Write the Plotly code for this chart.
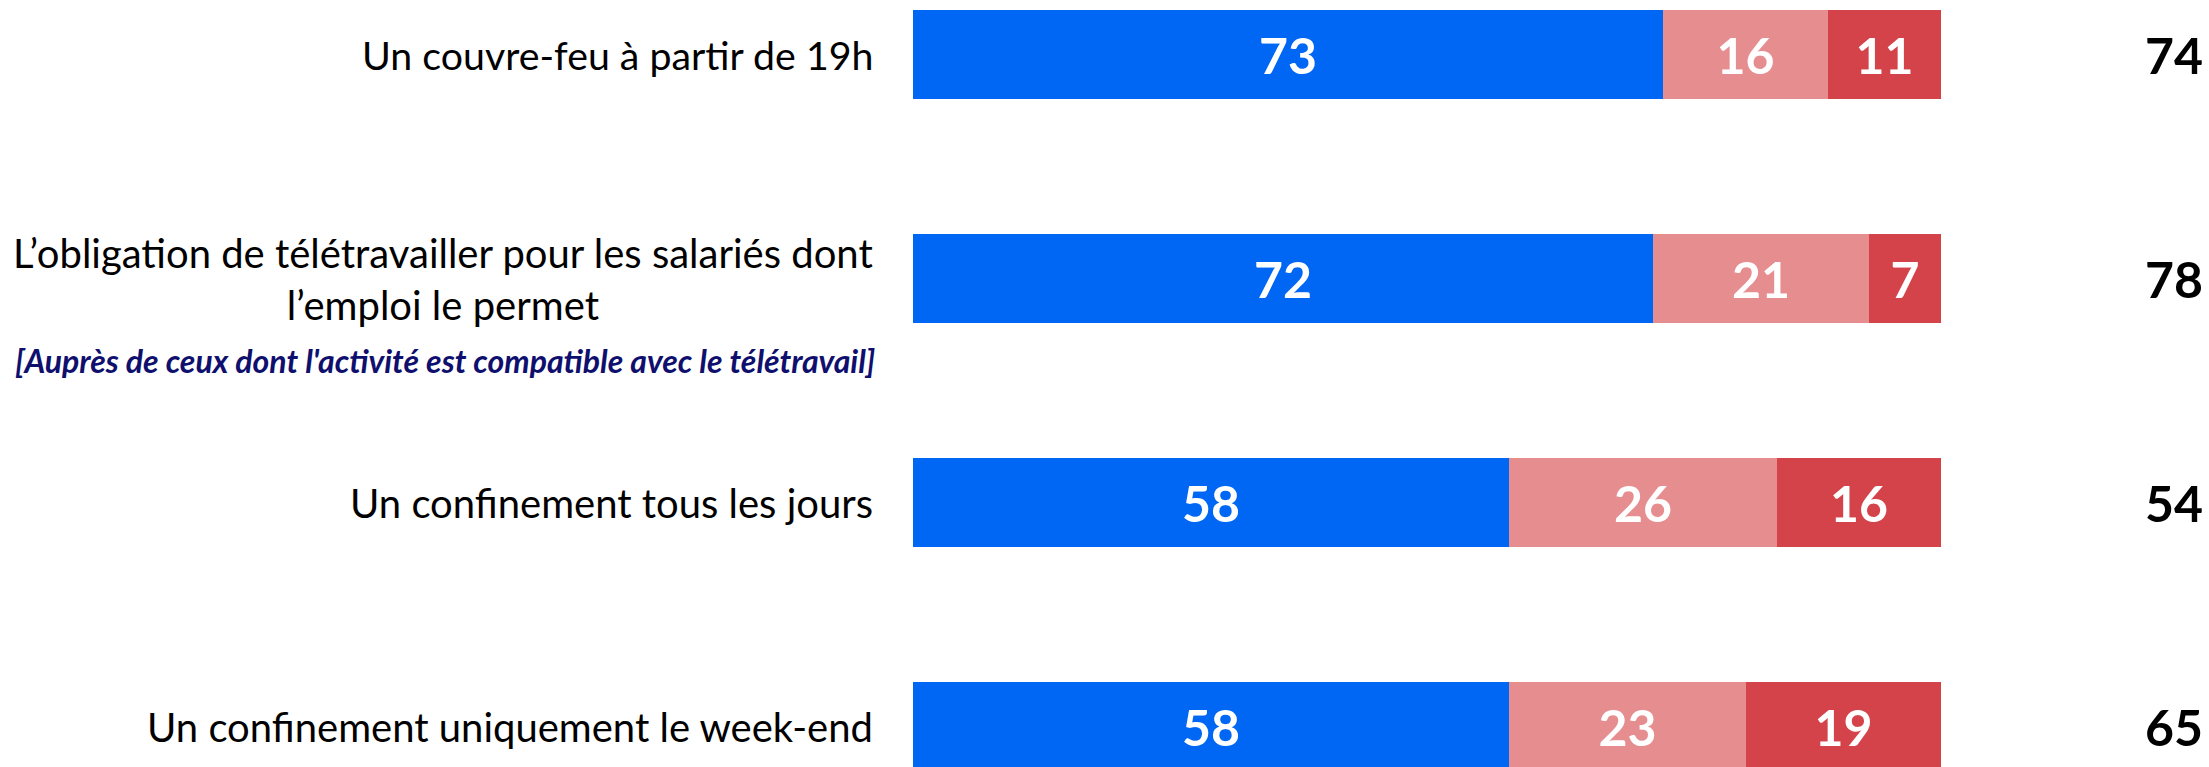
import plotly.graph_objects as go

categories = [
    "Un couvre-feu à partir de 19h",
    "L’obligation de télétravailler pour les salariés dont<br>l’emploi le permet",
    "Un confinement tous les jours",
    "Un confinement uniquement le week-end",
]
subtitle = "[Auprès de ceux dont l'activité est compatible avec le télétravail]"
series_names = ["Favorable", "Plutôt défavorable", "Défavorable"]
val_blue = [73, 72, 58, 58]
val_pink = [16, 21, 26, 23]
val_red = [11, 7, 16, 19]
totals = [74, 78, 54, 65]

colors = ["#0066F4", "#E68D90", "#D5434A"]
FONT = "Lato, sans-serif"
NUMFONT = "Lato, sans-serif"

ypos = list(range(len(categories)))
fig = go.Figure()
for name, vals, col in zip(series_names, [val_blue, val_pink, val_red], colors):
    fig.add_trace(go.Bar(
        name=name, y=ypos, x=vals, orientation="h",
        marker=dict(color=col, line=dict(width=0)),
        width=0.397,
        text=[str(v) for v in vals], textposition="inside",
        insidetextanchor="middle", textangle=0,
        textfont=dict(family=NUMFONT, size=50, color="white", weight="bold"),
        constraintext="none", hoverinfo="skip",
    ))

annotations = []
for i, (cat, tot) in enumerate(zip(categories, totals)):
    annotations.append(dict(
        xref="paper", yref="y", x=875 / 2209, y=i, xanchor="right", yanchor="middle",
        text=cat, showarrow=False, align="center",
        font=dict(family=FONT, size=40 if i else 39.3, color="black"),
    ))
    annotations.append(dict(
        xref="paper", yref="y", x=2205 / 2209, y=i, xanchor="right", yanchor="middle",
        text=f"<b>{tot}</b>", showarrow=False,
        font=dict(family=NUMFONT, size=50, color="black"),
    ))
annotations.append(dict(
    xref="paper", yref="y", x=877 / 2209, y=1, yshift=-82, xanchor="right", yanchor="middle",
    text=f"<b><i>{subtitle}</i></b>", showarrow=False,
    font=dict(family=FONT, size=32, color="#0F0F6E"),
))

fig.update_layout(
    barmode="stack", width=2209, height=767,
    margin=dict(l=0, r=0, t=0, b=0),
    paper_bgcolor="white", plot_bgcolor="white",
    showlegend=False, bargap=0,
    xaxis=dict(domain=[913 / 2209, 1941 / 2209], range=[0, 100], visible=False),
    yaxis=dict(range=[3.1808, -0.2433], visible=False),
    annotations=annotations,
    uniformtext=dict(mode=False),
)
fig.write_html(
    "out.html",
    config={"displayModeBar": False},
    post_script="document.body.style.margin='0';document.body.style.overflow='hidden';",
)
